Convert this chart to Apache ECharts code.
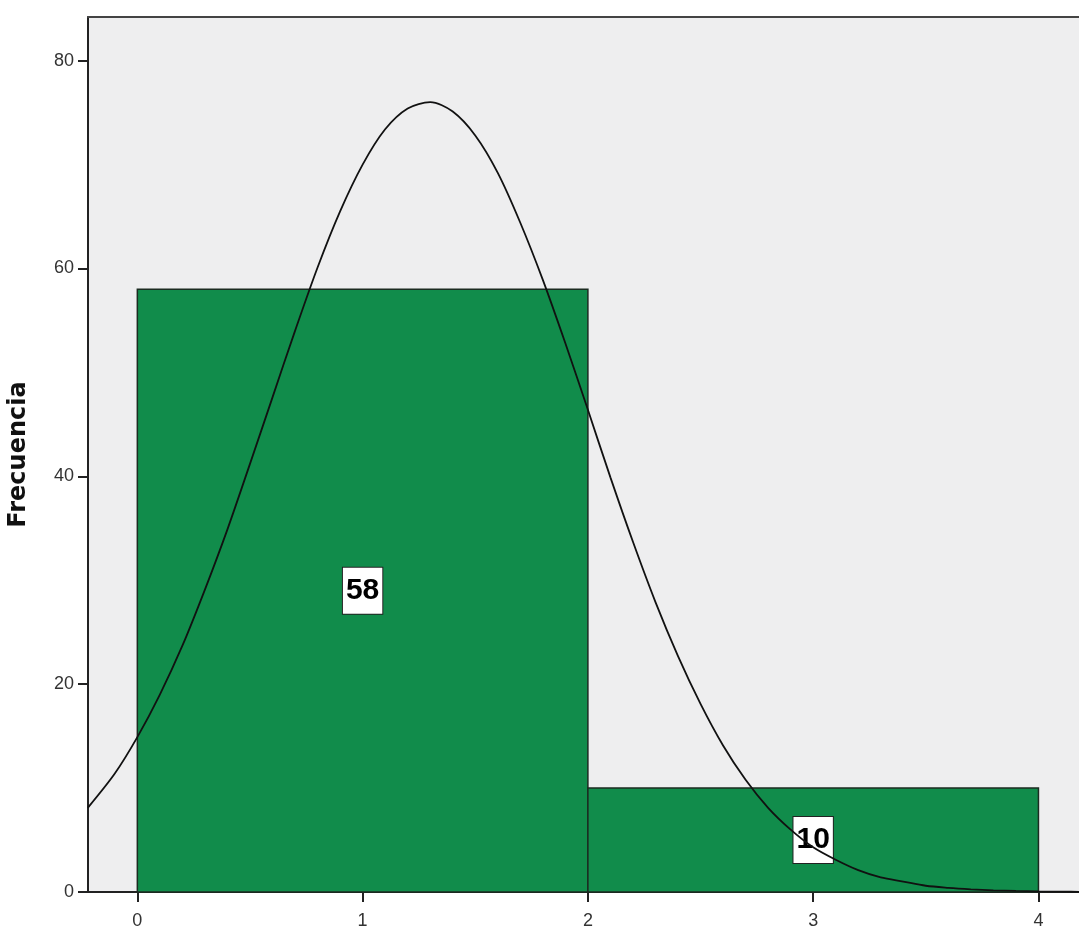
<!DOCTYPE html>
<html style="height: 100%">
<head>
    <meta charset="UTF-8">
    <title>Histograma</title>
</head>
<body style="height: 100%; margin: 0; background: #fff">
<div id="container" style="width: 1079px; height: 928px"></div>
<script src="https://cdn.jsdelivr.net/npm/echarts@6/dist/echarts.min.js"></script>
<script>
    // histograma: bordes de los intervalos y frecuencias
    var binEdges = [0, 2, 4];
    var binCounts = [58, 10];

    // curva normal
    var curveX = [-0.22, -0.1, 0, 0.1, 0.2, 0.3, 0.4, 0.5, 0.6, 0.7, 0.8, 0.9, 1.0, 1.1, 1.2, 1.3, 1.4, 1.5, 1.6, 1.7, 1.8, 1.9,
        2.0, 2.1, 2.2, 2.3, 2.4, 2.5, 2.6, 2.7, 2.8, 2.9, 3.0, 3.1, 3.2, 3.3, 3.4, 3.5, 3.6, 3.7, 3.8, 3.9, 4.0, 4.1, 4.2];
    var curveY = [8.1, 11.4, 14.9, 19.0, 23.7, 29.1, 34.9, 41.2, 47.6, 54.0, 60.1, 65.5, 70.0, 73.4, 75.4, 76.0, 75.1, 72.8, 69.2, 64.4, 58.9, 52.8,
        46.4, 39.9, 33.7, 27.9, 22.7, 18.1, 14.1, 10.8, 8.1, 6.0, 4.3, 3.1, 2.1, 1.4, 1.0, 0.6, 0.4, 0.26, 0.16, 0.1, 0.06, 0.03, 0.02];

    var xTicks = [0, 1, 2, 3, 4];
    var yTicks = [0, 20, 40, 60, 80];

    var bins = [];
    for (var i = 0; i < binCounts.length; i++) {
        bins.push([binEdges[i], binEdges[i + 1], binCounts[i]]);
    }
    var curve = [];
    for (var j = 0; j < curveX.length; j++) {
        curve.push([curveX[j], curveY[j]]);
    }

    var axisColor = '#222';
    var dom = document.getElementById("container");
    var myChart = echarts.init(dom);
    var option = {
        animation: false,
        grid: {
            left: 88,
            right: 0,
            top: 17,
            bottom: 36,
            containLabel: false,
            outerBoundsMode: 'none',
            show: true,
            backgroundColor: '#eeeeef',
            borderWidth: 0
        },
        xAxis: [
            {
                type: 'value',
                min: -0.219,
                max: 4.18,
                splitLine: {show: false},
                axisLine: {onZero: false, lineStyle: {color: axisColor, width: 2}},
                axisTick: {
                    show: true,
                    length: 10,
                    customValues: xTicks,
                    lineStyle: {color: axisColor, width: 2}
                },
                axisLabel: {
                    customValues: xTicks,
                    margin: 20,
                    fontSize: 18,
                    color: '#333',
                    fontFamily: 'Liberation Sans'
                }
            },
            {
                type: 'value',
                position: 'top',
                min: -0.219,
                max: 4.18,
                splitLine: {show: false},
                axisLine: {show: true, onZero: false, lineStyle: {color: '#444', width: 2}},
                axisTick: {show: false},
                axisLabel: {show: false}
            }
        ],
        yAxis: {
            type: 'value',
            min: 0,
            max: 84.2,
            name: 'Frecuencia',
            nameLocation: 'middle',
            nameGap: 57,
            nameTextStyle: {
                fontSize: 24,
                fontWeight: 'bold',
                color: '#111',
                fontFamily: 'DejaVu Sans'
            },
            splitLine: {show: false},
            axisLine: {show: true, onZero: false, lineStyle: {color: axisColor, width: 2}},
            axisTick: {
                show: true,
                inside: false,
                length: 10,
                customValues: yTicks,
                lineStyle: {color: axisColor, width: 2}
            },
            axisLabel: {
                customValues: yTicks,
                margin: 14,
                fontSize: 18,
                color: '#333',
                fontFamily: 'Liberation Sans'
            }
        },
        series: [
            {
                type: 'custom',
                data: bins,
                z: 2,
                renderItem: function (params, api) {
                    var x0 = api.value(0), x1 = api.value(1), c = api.value(2);
                    var p0 = api.coord([x0, c]);
                    var p1 = api.coord([x1, 0]);
                    var mid = api.coord([(x0 + x1) / 2, c / 2]);
                    return {
                        type: 'group',
                        children: [
                            {
                                type: 'rect',
                                shape: {x: p0[0], y: p0[1], width: p1[0] - p0[0], height: p1[1] - p0[1]},
                                style: {fill: '#118c4b', stroke: '#1b2b21', lineWidth: 1.5}
                            },
                            {
                                type: 'text',
                                x: mid[0],
                                y: mid[1],
                                style: {
                                    text: String(c),
                                    font: 'bold 30px "Liberation Sans"',
                                    fill: '#000',
                                    align: 'center',
                                    verticalAlign: 'middle',
                                    backgroundColor: '#fff',
                                    borderColor: '#222',
                                    borderWidth: 1,
                                    padding: [8, 3]
                                }
                            }
                        ]
                    };
                }
            },
            {
                type: 'line',
                data: curve,
                z: 5,
                smooth: 0.3,
                showSymbol: false,
                lineStyle: {color: '#111', width: 1.8}
            }
        ]
    };
    myChart.setOption(option);
</script>
</body>
</html>
